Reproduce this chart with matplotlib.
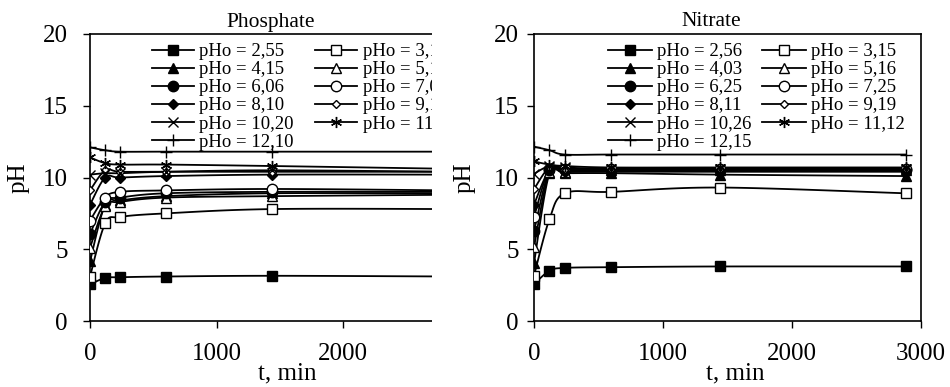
import numpy as np
import matplotlib
matplotlib.use("Agg")
import matplotlib.pyplot as plt
from matplotlib.patches import Rectangle

plt.rcParams['font.family'] = ['Liberation Serif', 'DejaVu Serif']

t = [0, 120, 240, 600, 1440, 2880]

phos_labels = ['pHo = 2,55', 'pHo = 3,15', 'pHo = 4,15', 'pHo = 5,12', 'pHo = 6,06', 'pHo = 7,05',
               'pHo = 8,10', 'pHo = 9,15', 'pHo = 10,20', 'pHo = 11,10', 'pHo = 12,10']
phos = [
    [2.55, 3.0, 3.05, 3.1, 3.15, 3.1],
    [3.1, 6.8, 7.25, 7.5, 7.8, 7.8],
    [4.15, 8.1, 8.4, 8.7, 8.9, 8.9],
    [5.1, 8.0, 8.3, 8.6, 8.7, 8.8],
    [6.06, 8.3, 8.6, 8.9, 9.0, 9.0],
    [7.0, 8.6, 9.0, 9.1, 9.2, 9.1],
    [8.1, 10.0, 10.0, 10.1, 10.2, 10.2],
    [9.1, 10.5, 10.4, 10.4, 10.4, 10.4],
    [10.2, 10.3, 10.3, 10.4, 10.5, 10.4],
    [11.4, 11.0, 10.9, 10.9, 10.8, 10.6],
    [12.1, 11.9, 11.8, 11.8, 11.8, 11.8],
]

nitr_labels = ['pHo = 2,56', 'pHo = 3,15', 'pHo = 4,03', 'pHo = 5,16', 'pHo = 6,25', 'pHo = 7,25',
               'pHo = 8,11', 'pHo = 9,19', 'pHo = 10,26', 'pHo = 11,12', 'pHo = 12,15']
nitr = [
    [2.56, 3.5, 3.7, 3.75, 3.8, 3.8],
    [3.15, 7.1, 8.9, 9.0, 9.3, 8.9],
    [4.03, 10.3, 10.3, 10.3, 10.2, 10.1],
    [5.16, 10.4, 10.4, 10.5, 10.5, 10.5],
    [6.25, 10.5, 10.5, 10.5, 10.5, 10.5],
    [7.25, 10.6, 10.6, 10.6, 10.6, 10.6],
    [8.11, 10.5, 10.4, 10.4, 10.4, 10.4],
    [9.19, 10.7, 10.6, 10.6, 10.6, 10.6],
    [10.26, 10.8, 10.7, 10.6, 10.6, 10.6],
    [11.12, 10.9, 10.8, 10.7, 10.7, 10.7],
    [12.15, 11.9, 11.6, 11.6, 11.6, 11.6],
]

# marker, facecolor, size
styles = [('s', 'black', 7), ('s', 'white', 7), ('^', 'black', 7), ('^', 'white', 7),
          ('o', 'black', 7.5), ('o', 'white', 7.5), ('D', 'black', 5), ('D', 'white', 4.5),
          ('x', 'black', 7), ((6, 2, 0), 'black', 8), ('+', 'black', 9)]


def smooth(x, y, n=20):
    # excel-like smoothed line (catmull-rom bezier)
    p = np.column_stack([x, y]).astype(float)
    out = [p[0]]
    s = np.linspace(0, 1, n)[1:, None]
    for i in range(len(p) - 1):
        p0 = p[max(i - 1, 0)]
        p1 = p[i]
        p2 = p[i + 1]
        p3 = p[min(i + 2, len(p) - 1)]
        c1 = p1 + (p2 - p0) / 6
        c2 = p2 - (p3 - p1) / 6
        seg = (1 - s)**3 * p1 + 3 * (1 - s)**2 * s * c1 + 3 * (1 - s) * s**2 * c2 + s**3 * p2
        out.extend(seg)
    out = np.array(out)
    return out[:, 0], out[:, 1]


def draw(ax, data, labels):
    handles = []
    for vals, lab, (m, fc, ms) in zip(data, labels, styles):
        sx, sy = smooth(t, vals)
        ax.plot(sx, sy, color='black', lw=1.3, zorder=2)
        ax.plot(t, vals, ls='none', marker=m, mfc=fc, mec='black', ms=ms, mew=1.0, zorder=3)
        h, = ax.plot([], [], color='black', lw=1.3, marker=m, mfc=fc, mec='black', ms=ms, mew=1.0, label=lab)
        handles.append(h)
    ax.set_xlim(0, 3000)
    ax.set_ylim(0, 20)
    ax.set_xticks([0, 1000, 2000, 3000])
    ax.set_yticks([0, 5, 10, 15, 20])
    ax.tick_params(direction='out', length=5, width=1, labelsize=18)
    for sp in ax.spines.values():
        sp.set_linewidth(1.2)
    ax.set_xlabel('t, min', fontsize=18)
    ax.set_ylabel('pH', fontsize=18)
    order = [0, 2, 4, 6, 8, 10, 1, 3, 5, 7, 9]
    return [handles[i] for i in order]


fig = plt.figure(figsize=(9.5, 3.87), dpi=100)

ax1 = fig.add_axes([90 / 950, 66 / 387, 380 / 950, 287 / 387])
ax1.set_zorder(0)
hs = draw(ax1, phos, phos_labels)
ax1.tick_params(axis='y', pad=11)
ax1.tick_params(axis='x', pad=11)
ax1.legend(hs, [h.get_label() for h in hs], ncol=2, frameon=False, fontsize=13.5,
           loc='upper left', bbox_to_anchor=(0.163, 0.968), borderpad=0, borderaxespad=0,
           handlelength=2.25, handletextpad=0.27, columnspacing=1.15, labelspacing=0.05)
ax1.xaxis.set_label_coords(0.52, -0.143)
ax1.yaxis.set_label_coords(-0.158, 0.5)

# right chart sits on top of the left one and hides its right part
fig.patches.append(Rectangle((432 / 950, 0), 1, 1, transform=fig.transFigure,
                             facecolor='white', edgecolor='none', zorder=1))

ax2 = fig.add_axes([534 / 950, 66 / 387, 387 / 950, 287 / 387])
ax2.set_zorder(2)
hs = draw(ax2, nitr, nitr_labels)
ax2.tick_params(axis='y', pad=6)
ax2.tick_params(axis='x', pad=11)
ax2.legend(hs, [h.get_label() for h in hs], ncol=2, frameon=False, fontsize=13.5,
           loc='upper left', bbox_to_anchor=(0.191, 0.968), borderpad=0, borderaxespad=0,
           handlelength=2.35, handletextpad=0.27, columnspacing=0.55, labelspacing=0.05)
ax2.xaxis.set_label_coords(0.519, -0.143)
ax2.yaxis.set_label_coords(-0.152, 0.5)

fig.text(271 / 950, 1 - 22 / 387, 'Phosphate', ha='center', va='center', fontsize=15.5)
fig.text(711 / 950, 1 - 22 / 387, 'Nitrate', ha='center', va='center', fontsize=15.5)

fig.savefig('out.png', dpi=100)
